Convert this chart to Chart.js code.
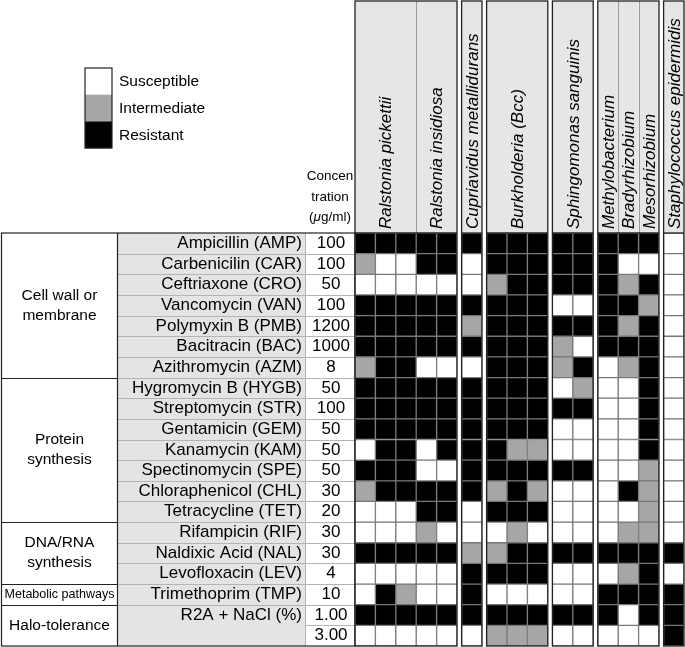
<!DOCTYPE html>
<html lang="en">
<head>
<meta charset="UTF-8">
<title>Antibiotic susceptibility</title>
<style>
  body { margin: 0; background: #fff; }
  canvas { display: block; }
</style>
<script src="https://cdn.jsdelivr.net/npm/chart.js"></script>
</head>
<body>
<canvas id="grid" width="685" height="647"></canvas>
<script>
  // strains across the top (columns per strain, frame group)
  const species = ['Ralstonia pickettii', 'Ralstonia insidiosa', 'Cupriavidus metallidurans',
    'Burkholderia (Bcc)', 'Sphingomonas sanguinis', 'Methylobacterium', 'Bradyrhizobium',
    'Mesorhizobium', 'Staphylococcus epidermidis'];
  const speciesCols = [3, 2, 1, 3, 2, 1, 1, 1, 1];
  const speciesGroup = [0, 0, 1, 2, 3, 4, 4, 4, 5];

  // rows
  const drugs = ['Ampicillin (AMP)', 'Carbenicilin (CAR)', 'Ceftriaxone (CRO)', 'Vancomycin (VAN)',
    'Polymyxin B (PMB)', 'Bacitracin (BAC)', 'Azithromycin (AZM)', 'Hygromycin B (HYGB)',
    'Streptomycin (STR)', 'Gentamicin (GEM)', 'Kanamycin (KAM)', 'Spectinomycin (SPE)',
    'Chloraphenicol (CHL)', 'Tetracycline (TET)', 'Rifampicin (RIF)', 'Naldixic Acid (NAL)',
    'Levofloxacin (LEV)', 'Trimethoprim (TMP)', 'R2A + NaCl (%)', ''];
  const concentrations = ['100', '100', '50', '100', '1200', '1000', '8', '50', '100', '50',
    '50', '50', '30', '20', '30', '30', '4', '10', '1.00', '3.00'];
  const categories = [['Cell wall or', 'membrane'], ['Protein', 'synthesis'],
    ['DNA/RNA', 'synthesis'], ['Metabolic pathways'], ['Halo-tolerance']];
  const categoryRows = [7, 7, 3, 1, 2];

  // S = susceptible, I = intermediate, R = resistant; one char per column
  const statusLabels = ['Susceptible', 'Intermediate', 'Resistant'];
  const statusCodes = ['S', 'I', 'R'];
  const results = [
    'RRRRRRRRRRRRRRS',
    'ISSRRSRRRRRRSSS',
    'SSSSSSIRRRRRIRS',
    'RRRRRRRRRSSRRIS',
    'RRRRRIRRRRRRIRS',
    'RRRRRRRRRISRRRS',
    'IRRSSSRRRIRSIRS',
    'RRRRRRRRRSISSRS',
    'RRRRRRRRRRRSSRS',
    'RRRRRRRRRSSSSRS',
    'SRRSRRRIISSSSRS',
    'RRRSSRRRRRRSSIS',
    'IRRRRRIRISSSRIS',
    'SSSRRSRRRSSSSIS',
    'SSSISSSISSSSIIS',
    'RRRRRIIRRRRRRRR',
    'SSSSSRRRRSSSIRS',
    'SRISSRSSSSSRRRR',
    'RRRRRRRRRRRRSRR',
    'SSSSSSIIISSSSSR'
  ];

  const colors = ['#ffffff', '#a6a6a6', '#000000'];
  const GAP = 0.225; // white gap between strain groups, in columns

  const colGroup = [];
  species.forEach((s, i) => {
    for (let k = 0; k < speciesCols[i]; k++) colGroup.push(speciesGroup[i]);
  });
  const nCols = colGroup.length;
  const nGroups = Math.max(...speciesGroup) + 1;
  const colPos = c => c + 0.5 + colGroup[c] * GAP;

  const datasets = statusLabels.map((label, si) => ({
    label: label,
    backgroundColor: colors[si],
    data: []
  }));
  results.forEach((row, r) => {
    row.split('').forEach((ch, c) => {
      datasets[statusCodes.indexOf(ch)].data.push({ x: colPos(c), y: [r, r + 1] });
    });
  });

  const FONT = '"Liberation Sans", Arial, sans-serif';
  const CAT_RIGHT = 117, DRUG_RIGHT = 305;

  const tablePlugin = {
    id: 'table',
    beforeDatasetsDraw(chart) {
      const { ctx, chartArea: a, scales: { x, y } } = chart;
      ctx.save();
      // header boxes
      let c = 0;
      species.forEach((name, i) => {
        const g = speciesGroup[i];
        const l = x.getPixelForValue(c + g * GAP);
        const r = x.getPixelForValue(c + speciesCols[i] + g * GAP);
        ctx.fillStyle = '#e6e6e6';
        ctx.fillRect(l, 1, r - l, a.top - 1);
        c += speciesCols[i];
      });

      // drug column fill
      ctx.fillStyle = '#e4e4e4';
      ctx.fillRect(CAT_RIGHT, a.top, DRUG_RIGHT - CAT_RIGHT, a.bottom - a.top);

      // row lines
      ctx.strokeStyle = '#b4b4b4';
      ctx.lineWidth = 1;
      for (let r = 1; r < drugs.length; r++) {
        const yy = Math.round(y.getPixelForValue(r)) + 0.5;
        ctx.beginPath();
        ctx.moveTo(drugs[r] === '' ? DRUG_RIGHT : CAT_RIGHT, yy);
        ctx.lineTo(a.left, yy);
        ctx.stroke();
      }
      ctx.beginPath();
      ctx.moveTo(DRUG_RIGHT + 0.5, a.top);
      ctx.lineTo(DRUG_RIGHT + 0.5, a.bottom);
      ctx.stroke();

      // category blocks
      ctx.strokeStyle = '#222';
      ctx.lineWidth = 1.2;
      ctx.strokeRect(1.5, a.top, a.left - 1.5, a.bottom - a.top);
      ctx.beginPath();
      ctx.moveTo(CAT_RIGHT + 0.5, a.top);
      ctx.lineTo(CAT_RIGHT + 0.5, a.bottom);
      ctx.stroke();
      ctx.fillStyle = '#000';
      ctx.textAlign = 'center';
      ctx.textBaseline = 'middle';
      let start = 0;
      categories.forEach((lines, i) => {
        const end = start + categoryRows[i];
        const y0 = y.getPixelForValue(start), y1 = y.getPixelForValue(end);
        if (end < drugs.length) {
          ctx.beginPath();
          ctx.moveTo(1.5, Math.round(y1) + 0.5);
          ctx.lineTo(CAT_RIGHT, Math.round(y1) + 0.5);
          ctx.stroke();
        }
        const small = lines[0] === 'Metabolic pathways';
        ctx.font = (small ? '13px ' : '15.5px ') + FONT;
        const mid = (y0 + y1) / 2;
        lines.forEach((t, k) => {
          ctx.fillText(t, CAT_RIGHT / 2 + 1, mid + (k - (lines.length - 1) / 2) * 20, small ? 110 : 200);
        });
        start = end;
      });

      // drug names and concentrations
      ctx.font = '17px ' + FONT;
      drugs.forEach((d, r) => {
        const mid = y.getPixelForValue(r + 0.5);
        ctx.textAlign = 'right';
        ctx.fillText(d, DRUG_RIGHT - 3, mid);
        ctx.textAlign = 'center';
        ctx.fillText(concentrations[r], (DRUG_RIGHT + a.left) / 2 + 1, mid);
      });

      // concentration header
      ctx.font = '13.5px ' + FONT;
      ctx.fillText('Concen', 330, 176);
      ctx.fillText('tration', 330, 197);
      const w1 = ctx.measureText('(').width, w2 = ctx.measureText('g/ml)').width;
      ctx.font = 'italic 13.5px ' + FONT;
      const wm = ctx.measureText('\u03bc').width;
      let tx = 330 - (w1 + wm + w2) / 2;
      ctx.textAlign = 'left';
      ctx.font = '13.5px ' + FONT;
      ctx.fillText('(', tx, 217);
      ctx.font = 'italic 13.5px ' + FONT;
      ctx.fillText('\u03bc', tx + w1, 217);
      ctx.font = '13.5px ' + FONT;
      ctx.fillText('g/ml)', tx + w1 + wm, 217);

      // legend from datasets
      chart.data.datasets.forEach((ds, i) => {
        const top = 68 + i * 26.7;
        ctx.fillStyle = ds.backgroundColor;
        ctx.fillRect(85, top, 27, 26.7);
        ctx.fillStyle = '#000';
        ctx.font = '15.5px ' + FONT;
        ctx.textAlign = 'left';
        ctx.fillText(ds.label, 119, top + 14);
      });
      ctx.strokeStyle = '#222';
      ctx.lineWidth = 1.2;
      ctx.strokeRect(85, 68, 27, 26.7 * chart.data.datasets.length);
      ctx.restore();
    },
    afterDatasetsDraw(chart) {
      const { ctx, chartArea: a, scales: { x } } = chart;
      ctx.save();
      // species separators and names in the header
      let c = 0;
      species.forEach((name, i) => {
        const g = speciesGroup[i];
        const l = x.getPixelForValue(c + g * GAP);
        const r = x.getPixelForValue(c + speciesCols[i] + g * GAP);
        if (i > 0 && speciesGroup[i - 1] === g) {
          ctx.strokeStyle = '#9a9a9a';
          ctx.lineWidth = 1;
          ctx.beginPath();
          ctx.moveTo(Math.round(l) + 0.5, 1);
          ctx.lineTo(Math.round(l) + 0.5, a.top);
          ctx.stroke();
        }
        ctx.save();
        ctx.translate((l + r) / 2, a.top - 4);
        ctx.rotate(-Math.PI / 2);
        ctx.fillStyle = '#000';
        ctx.font = 'italic 17px ' + FONT;
        ctx.textAlign = 'left';
        ctx.textBaseline = 'middle';
        ctx.fillText(name, 0, 1);
        ctx.restore();
        c += speciesCols[i];
      });
      // group frames
      ctx.strokeStyle = '#222';
      ctx.lineWidth = 1.3;
      let first = 0;
      for (let g = 0; g < nGroups; g++) {
        const cols = colGroup.filter(v => v === g).length;
        const l = x.getPixelForValue(first + g * GAP);
        const r = x.getPixelForValue(first + cols + g * GAP);
        ctx.strokeRect(l, 1, r - l, a.bottom - 1);
        ctx.beginPath();
        ctx.moveTo(l, a.top);
        ctx.lineTo(r, a.top);
        ctx.stroke();
        first += cols;
      }
      ctx.restore();
    }
  };

  new Chart(document.getElementById('grid'), {
    type: 'bar',
    data: { datasets: datasets },
    options: {
      responsive: false,
      animation: false,
      layout: { padding: { left: 355, top: 233, right: 1, bottom: 1 } },
      datasets: {
        bar: {
          grouped: false,
          barPercentage: 1,
          categoryPercentage: 1,
          borderWidth: 1,
          borderColor: '#777',
          borderSkipped: false
        }
      },
      scales: {
        x: {
          type: 'linear', display: false, offset: false, min: 0, max: nCols + (nGroups - 1) * GAP,
          ticks: { stepSize: 1, includeBounds: false }
        },
        y: { type: 'linear', display: false, min: 0, max: results.length, reverse: true }
      },
      plugins: { legend: { display: false }, tooltip: { enabled: false } }
    },
    plugins: [tablePlugin]
  });
</script>
</body>
</html>
